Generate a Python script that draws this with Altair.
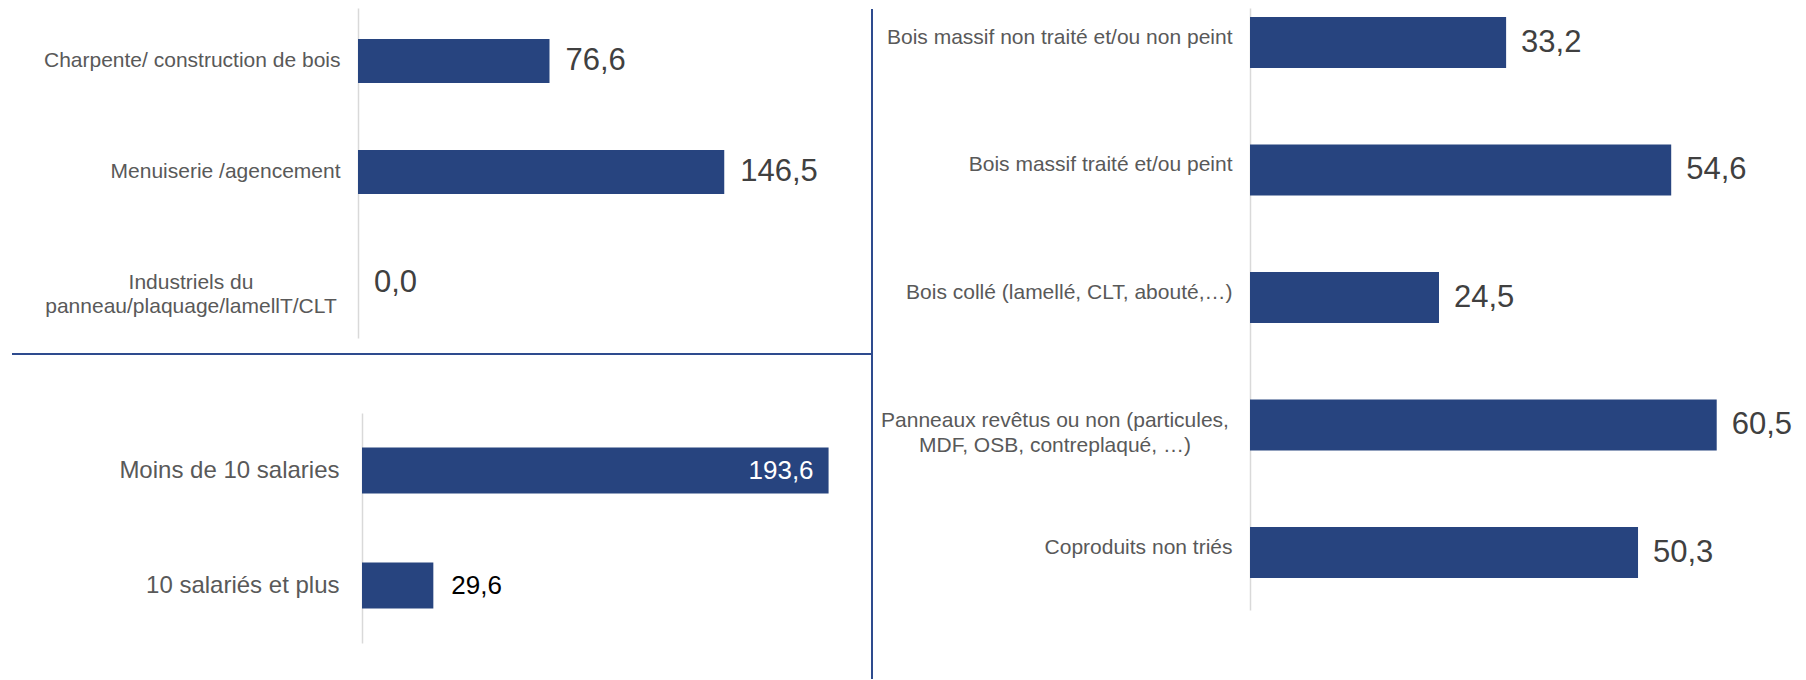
import altair as alt
import pandas as pd

# ---- data ----
tl_cats = ["Charpente/ construction de bois", "Menuiserie /agencement",
           "Industriels du\npanneau/plaquage/lamellT/CLT"]
tl_vals = [76.6, 146.5, 0.0]

bl_cats = ["Moins de 10 salaries", "10 salariés et plus"]
bl_vals = [193.6, 29.6]

r_cats = ["Bois massif non traité et/ou non peint", "Bois massif traité et/ou peint",
          "Bois collé (lamellé, CLT, abouté,…)",
          "Panneaux revêtus ou non (particules,\nMDF, OSB, contreplaqué, …)",
          "Coproduits non triés"]
r_vals = [33.2, 54.6, 24.5, 60.5, 50.3]

title_text = "En millions d'€ / an"

BAR = "#27447F"
LINE = "#2E4B8E"
GRAY_LBL = "#595959"
VAL_CLR = "#404040"
FONT = "Liberation Sans"


def fmt(v):
    return f"{v:.1f}".replace(".", ",")


def frame(cats, vals):
    return pd.DataFrame({"cat": cats, "val": vals, "lab": [fmt(v) for v in vals]})


multi = "indexof(datum.cat, '\\n') >= 0"
lbl_expr = "indexof(datum.label, '\\n') >= 0 ? '' : datum.label"

# ---- top-left panel ----
tl_df = frame(tl_cats, tl_vals)
tl_x = alt.X("val:Q", scale=alt.Scale(domain=[0, 200], nice=False, zero=True), axis=None)
tl_y = alt.Y("cat:N", sort=tl_cats, title=None,
             scale=alt.Scale(paddingInner=0.6036, paddingOuter=0.288, align=0.484),
             axis=alt.Axis(ticks=False, domainColor="#D9D9D9", domainWidth=1.5,
                           labelFont=FONT, labelFontSize=21, labelColor=GRAY_LBL,
                           labelPadding=18, labelLimit=700, minExtent=350,
                           labelExpr=lbl_expr))
tl_base = alt.Chart(tl_df)
tl_bars = tl_base.mark_bar(color=BAR).encode(x=tl_x, y=tl_y)
tl_vals_txt = tl_base.mark_text(align="left", baseline="middle", dx=16, fontSize=31,
                                font=FONT, color=VAL_CLR).encode(x="val:Q", y=alt.Y("cat:N", sort=tl_cats), text="lab:N")
tl_multi = tl_base.transform_filter(multi).mark_text(
    align="center", baseline="middle", dx=-167, fontSize=21, font=FONT, color=GRAY_LBL,
    lineBreak="\n", lineHeight=24).encode(x=alt.datum(0), y=alt.Y("cat:N", sort=tl_cats), text="cat:N")
tl_hline = alt.Chart(pd.DataFrame({"t": [title_text]})).mark_rule(color=LINE, strokeWidth=2).encode(
    x=alt.value(-346), x2=alt.value(514), y=alt.value(346))
tl = alt.layer(tl_bars, tl_vals_txt, tl_multi, tl_hline).properties(width=500, height=330)

# ---- bottom-left panel ----
bl_df = frame(bl_cats, bl_vals)
bl_x = alt.X("val:Q", scale=alt.Scale(domain=[-1.66, 200], nice=False, zero=False), axis=None)
bl_y = alt.Y("cat:N", sort=bl_cats, title=None,
             scale=alt.Scale(paddingInner=0.6, paddingOuter=0.3, align=0.5),
             axis=alt.Axis(ticks=False, domainColor="#D9D9D9", domainWidth=1.5, offset=-4,
                           labelFont=FONT, labelFontSize=24, labelColor=GRAY_LBL,
                           labelPadding=23, labelLimit=700))
bl_base = alt.Chart(bl_df)
bl_bars = bl_base.mark_bar(color=BAR).encode(x=bl_x, y=bl_y)
bl_in = bl_base.transform_filter("datum.val > 100").mark_text(
    align="right", baseline="middle", dx=-15, fontSize=26, font=FONT, color="white").encode(
    x="val:Q", y=alt.Y("cat:N", sort=bl_cats), text="lab:N")
bl_out = bl_base.transform_filter("datum.val <= 100").mark_text(
    align="left", baseline="middle", dx=18, fontSize=26, font=FONT, color="black").encode(
    x="val:Q", y=alt.Y("cat:N", sort=bl_cats), text="lab:N")
bl = alt.layer(bl_bars, bl_in, bl_out).properties(width=486, height=230)

# ---- right panel ----
r_df = frame(r_cats, r_vals)
r_x = alt.X("val:Q", scale=alt.Scale(domain=[0, 70], nice=False, zero=True), axis=None)
r_y = alt.Y("cat:N", sort=r_cats, title=None,
            scale=alt.Scale(paddingInner=0.6, paddingOuter=0.1608, align=0.22),
            axis=alt.Axis(ticks=False, domainColor="#D9D9D9", domainWidth=1.5,
                          labelFont=FONT, labelFontSize=21, labelColor=GRAY_LBL,
                          labelPadding=18, labelLimit=700, labelOffset=-5,
                          labelExpr=lbl_expr))
r_base = alt.Chart(r_df)
r_bars = r_base.mark_bar(color=BAR).encode(x=r_x, y=r_y)
r_vals_txt = r_base.mark_text(align="left", baseline="middle", dx=15, fontSize=31,
                              font=FONT, color=VAL_CLR).encode(x="val:Q", y=alt.Y("cat:N", sort=r_cats), text="lab:N")
r_multi = r_base.transform_filter(multi).mark_text(
    align="center", baseline="middle", dx=-195, dy=-4, fontSize=21, font=FONT, color=GRAY_LBL,
    lineBreak="\n", lineHeight=25).encode(x=alt.datum(0), y=alt.Y("cat:N", sort=r_cats), text="cat:N")
r_vline = alt.Chart(pd.DataFrame({"t": [title_text]})).mark_rule(color=LINE, strokeWidth=2).encode(
    x=alt.value(-378), y=alt.value(1), y2=alt.value(671))
r = alt.layer(r_bars, r_vals_txt, r_multi, r_vline).properties(width=540, height=602)

left = alt.vconcat(tl, bl, spacing=75, bounds="flush")
chart = alt.hconcat(left, r, spacing=892, bounds="flush").properties(padding=0).configure(
    font=FONT, view=alt.ViewConfig(stroke=None))

chart.save("out.html", embed_options={"renderer": "svg", "actions": False})
